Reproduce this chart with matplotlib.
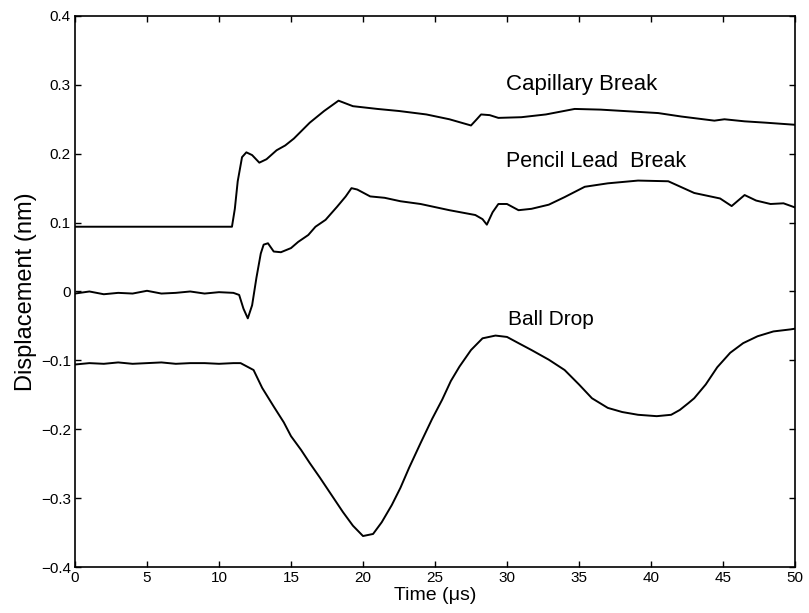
import matplotlib
matplotlib.use("Agg")
from matplotlib import pyplot as plt

plt.rcParams['font.family'] = ['Liberation Sans', 'DejaVu Sans']

# capillary break
cap_t = [0, 5, 10.9, 11.1, 11.3, 11.6, 11.9, 12.3, 12.8, 13.3, 14.0, 14.6, 15.2,
         16.3, 17.3, 18.3, 19.3, 21.0, 22.5, 24.4, 26.0, 27.5, 27.9, 28.2, 28.8,
         29.4, 31.0, 32.7, 34.7, 36.5, 38.9, 40.5, 42.1, 44.4, 45.1, 46.5, 48.0, 50]
cap_v = [0.094, 0.094, 0.094, 0.12, 0.16, 0.195, 0.202, 0.198, 0.187, 0.192, 0.205,
         0.212, 0.222, 0.245, 0.262, 0.277, 0.269, 0.265, 0.262, 0.257, 0.250, 0.241,
         0.250, 0.257, 0.256, 0.252, 0.253, 0.257, 0.265, 0.264, 0.261, 0.259, 0.254,
         0.248, 0.250, 0.247, 0.245, 0.242]

# pencil lead break
pen_t = [0, 1, 2, 3, 4, 5, 6, 7, 8, 9, 10, 11, 11.4, 11.7, 12.0, 12.3, 12.6, 12.9,
         13.1, 13.4, 13.8, 14.3, 15.0, 15.5, 16.2, 16.7, 17.4, 18.2, 18.8, 19.2, 19.6,
         20.5, 21.5, 22.6, 24, 26, 27.8, 28.3, 28.6, 29.0, 29.4, 30.0, 30.8, 31.7,
         32.9, 34.0, 35.4, 37, 39.1, 41.2, 43.0, 44.8, 45.6, 46.5, 47.3, 48.3, 49.2, 50]
pen_v = [-0.003, 0.0, -0.004, -0.002, -0.003, 0.001, -0.003, -0.002, 0.0, -0.003,
         -0.001, -0.002, -0.005, -0.025, -0.039, -0.02, 0.02, 0.055, 0.068, 0.070,
         0.058, 0.057, 0.063, 0.072, 0.082, 0.094, 0.104, 0.123, 0.138, 0.150, 0.148,
         0.138, 0.136, 0.131, 0.127, 0.118, 0.111, 0.105, 0.097, 0.115, 0.127, 0.127,
         0.118, 0.120, 0.126, 0.137, 0.152, 0.157, 0.161, 0.160, 0.143, 0.135, 0.124,
         0.140, 0.132, 0.127, 0.128, 0.122]

# ball drop
ball_t = [0, 1, 2, 3, 4, 5, 6, 7, 8, 9, 10, 11, 11.5, 12.4, 13.0, 13.8, 14.5, 15.0,
          15.7, 16.3, 17.0, 17.8, 18.6, 19.3, 20.0, 20.7, 21.3, 22.0, 22.6, 23.2, 24.0,
          24.8, 25.5, 26.1, 26.7, 27.5, 28.3, 29.2, 30.0, 30.8, 31.7, 32.9, 34.0, 35.0,
          35.9, 37.0, 38.0, 39.1, 40.4, 41.4, 42.0, 42.6, 43.0, 43.8, 44.6, 45.5, 46.4,
          47.4, 48.5, 49.7, 50]
ball_v = [-0.106, -0.104, -0.105, -0.103, -0.105, -0.104, -0.103, -0.105, -0.104,
          -0.104, -0.105, -0.104, -0.104, -0.114, -0.14, -0.167, -0.19, -0.21, -0.23,
          -0.249, -0.27, -0.295, -0.32, -0.34, -0.355, -0.352, -0.335, -0.31, -0.285,
          -0.256, -0.22, -0.185, -0.157, -0.13, -0.109, -0.085, -0.068, -0.064, -0.066,
          -0.075, -0.085, -0.099, -0.114, -0.135, -0.155, -0.169, -0.175, -0.179,
          -0.181, -0.179, -0.172, -0.162, -0.155, -0.135, -0.11, -0.089, -0.075,
          -0.065, -0.058, -0.055, -0.054]

fig = plt.figure(figsize=(8.09, 6.13), dpi=100)
ax = fig.add_axes([0.0927, 0.075, 0.89, 0.899])

for t, v in [(cap_t, cap_v), (pen_t, pen_v), (ball_t, ball_v)]:
    ax.plot(t, v, color='black', linewidth=1.4)

ax.text(29.9, 0.300, 'Capillary Break', fontsize=16, va='center')
ax.text(29.9, 0.189, 'Pencil Lead  Break', fontsize=15.5, va='center')
ax.text(30.1, -0.040, 'Ball Drop', fontsize=15, va='center')

ax.set_xlim(0, 50)
ax.set_ylim(-0.4, 0.4)
ax.set_xticks(range(0, 51, 5))
ax.set_yticks([-0.4, -0.3, -0.2, -0.1, 0, 0.1, 0.2, 0.3, 0.4])
ax.set_yticklabels(['−0.4', '−0.3', '−0.2', '−0.1', '0', '0.1', '0.2', '0.3', '0.4'])
ax.tick_params(direction='in', length=4, width=1, labelsize=11, top=True, right=True, pad=3)
for s in ax.spines.values():
    s.set_linewidth(1.2)

ax.set_xlabel('Time (μs)', fontsize=14, labelpad=1)
ax.set_ylabel('Displacement (nm)', fontsize=17, labelpad=3)

fig.savefig('out.png', dpi=100)
